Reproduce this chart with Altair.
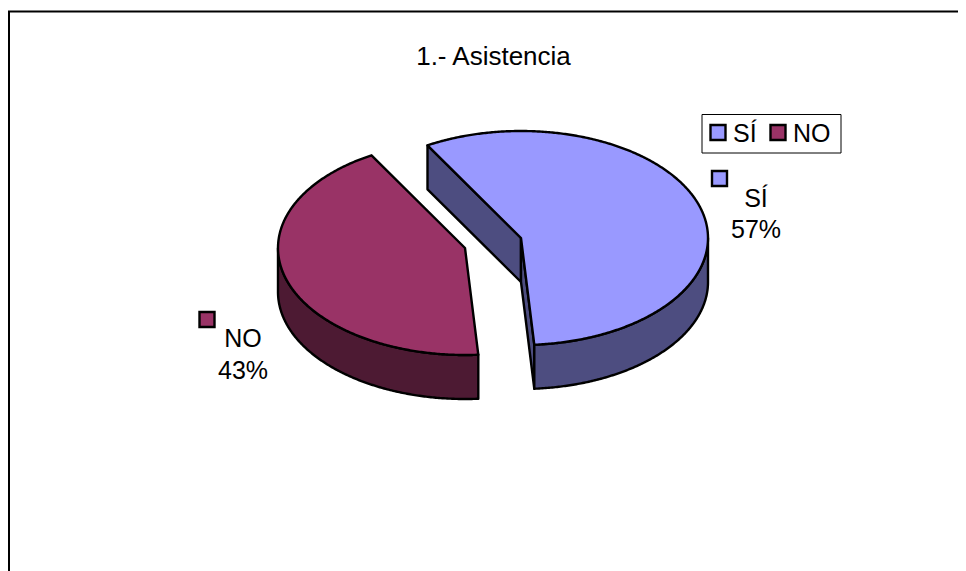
import numpy as np
import altair as alt

# ---- data ----
categories = ["SÍ", "NO"]
shares = [57.2, 42.8]
top_colors = ["#9999FF", "#993366"]
side_colors = ["#4D4D80", "#4D1A33"]
label_lines = ["57%", "43%"]

# ---- pie geometry (page pixels; OX, OY turn them into chart space) ----
OX, OY = 8, 8
RX, RY, DEPTH = 187, 107, 44
START = -30.0
CENTERS = {"SÍ": (521, 238), "NO": (465, 248)}


def pt(c, deg, dz=0):
    a = np.radians(deg)
    return [float(c[0] + RX * np.sin(a) - OX), float(c[1] - RY * np.cos(a) + dz - OY)]


def arc(c, a0, a1, dz=0):
    n = max(2, int(abs(a1 - a0) * 2))
    return [pt(c, a, dz) for a in np.linspace(a0, a1, n)]


def feature(ring, fill):
    return {
        "type": "Feature",
        "properties": {"fill": fill},
        "geometry": {"type": "Polygon", "coordinates": [ring + [ring[0]]]},
    }


def apex(c, dz=0):
    return [float(c[0] - OX), float(c[1] + dz - OY)]


angles = np.cumsum([0] + shares) / sum(shares) * 360 + START
features = []
# red slice (spans angles[1]..angles[2])
c = CENTERS["NO"]
a0, a1 = angles[1], angles[2]
features.append(feature(arc(c, a0, 270) + arc(c, 270, a0, DEPTH), side_colors[1]))
features.append(feature([apex(c)] + arc(c, a0, a1), top_colors[1]))
# blue slice (spans angles[0]..angles[1])
c = CENTERS["SÍ"]
a0, a1 = angles[0], angles[1]
features.append(feature([pt(c, a0), apex(c), apex(c, DEPTH), pt(c, a0, DEPTH)], side_colors[0]))
features.append(feature([apex(c), pt(c, a1), pt(c, a1, DEPTH), apex(c, DEPTH)], side_colors[0]))
features.append(feature(arc(c, 90, a1) + arc(c, a1, 90, DEPTH), side_colors[0]))
features.append(feature([apex(c)] + arc(c, a0, a1), top_colors[0]))

pie = (
    alt.Chart(alt.Data(values=features))
    .mark_geoshape(stroke="black", strokeWidth=2.4, strokeJoin="round")
    .encode(fill=alt.Fill("properties.fill:N", scale=None))
    .project(type="identity", scale=1, translate=[0, 0])
)

FONT = "Liberation Sans"


def box(x0, y0, x1, y1, **kw):
    return alt.Chart(alt.Data(values=[{"a": 1}])).mark_rect(**kw).encode(
        x=alt.value(x0 - OX), x2=alt.value(x1 - OX), y=alt.value(y0 - OY), y2=alt.value(y1 - OY)
    )


def text(s, x, y, size=25, align="center"):
    return alt.Chart(alt.Data(values=[{"t": s}])).mark_text(
        font=FONT, fontSize=size, align=align, baseline="alphabetic", color="black"
    ).encode(x=alt.value(x - OX), y=alt.value(y - OY), text="t:N")


layers = [
    box(9, 11.5, 1000, 620, fill="white", stroke="black", strokeWidth=2),
    pie,
    text("1.- Asistencia", 493.5, 65, size=26),
    box(702, 114.5, 841, 153, fill="white", stroke="black", strokeWidth=1),
    box(710.5, 125, 725.5, 140, fill=top_colors[0], stroke="black", strokeWidth=2.4),
    box(770.5, 125, 785.5, 140, fill=top_colors[1], stroke="black", strokeWidth=2.4),
    text(categories[0], 733, 142, align="left"),
    text(categories[1], 793, 142, align="left"),
    box(712, 171, 727, 186, fill=top_colors[0], stroke="black", strokeWidth=2.4),
    text(categories[0], 756, 207),
    text(label_lines[0], 756, 238),
    box(199.5, 312, 214.5, 327, fill=top_colors[1], stroke="black", strokeWidth=2.4),
    text(categories[1], 243, 347),
    text(label_lines[1], 243, 379),
]

chart = alt.layer(*layers).properties(
    width=950,
    height=563,
    padding=0,
    autosize=alt.AutoSizeParams(type="none"),
).configure_view(stroke=None)

chart.save("out.html", embed_options={"renderer": "svg", "actions": False})
